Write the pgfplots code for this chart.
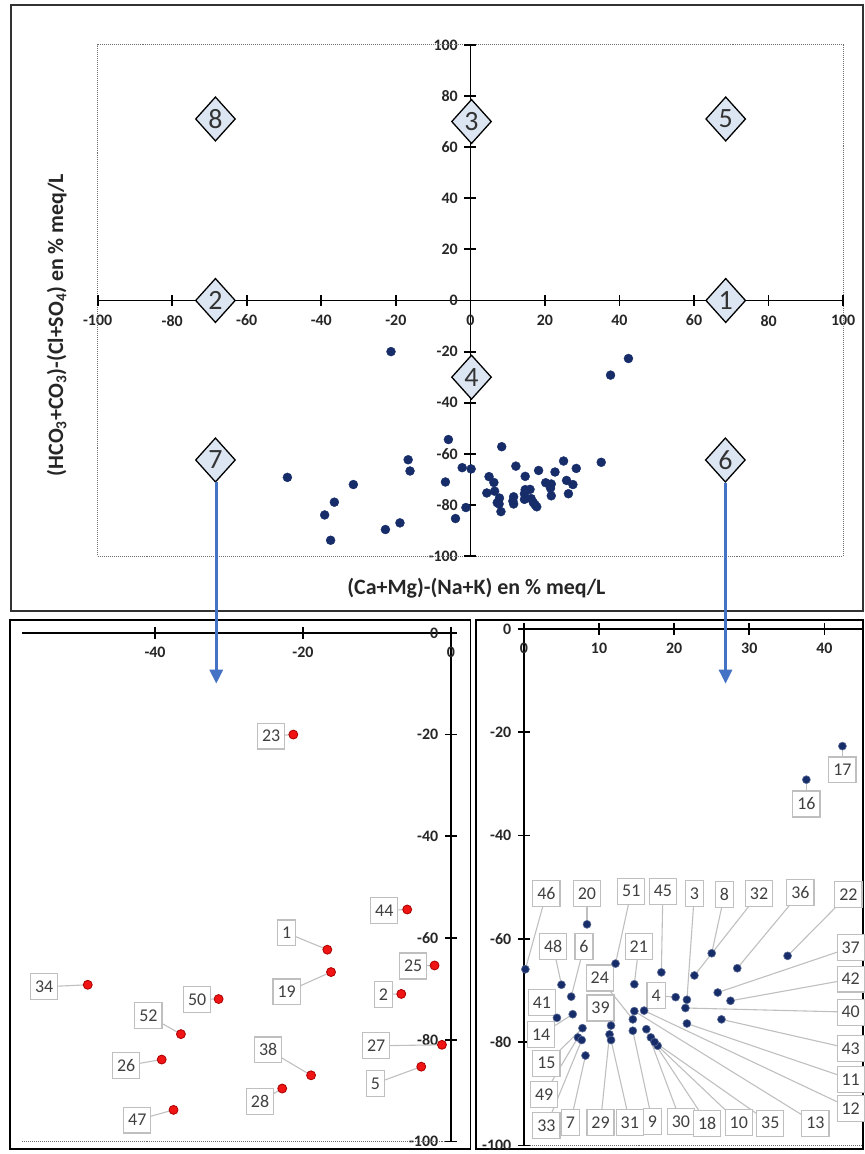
\documentclass[border=0pt]{standalone}
\usepackage{fontspec}
\setmainfont{Carlito}
\usepackage{pgfplots}
\pgfplotsset{compat=1.18}
\usepackage{pgfplotstable}
\usetikzlibrary{arrows.meta}

\definecolor{navy}{RGB}{22,45,105}
\definecolor{rdot}{RGB}{240,20,20}
\definecolor{rdotd}{RGB}{170,0,0}
\definecolor{dfill}{RGB}{220,230,242}
\definecolor{arrowblue}{RGB}{68,114,196}
\definecolor{lgray}{RGB}{191,191,191}
\definecolor{tgray}{RGB}{64,64,64}
\definecolor{framec}{RGB}{50,50,50}
\definecolor{dotc}{RGB}{110,110,110}

% points with (Ca+Mg)-(Na+K) < 0 : x y, label position lx ly, label
\pgfplotstableread{
x y lx ly lab
-21.3 -20.0 -24.3 -20.3 23
-5.9 -54.4 -9.0 -54.6 44
-16.7 -62.3 -22.2 -59.0 1
-2.2 -65.4 -5.1 -65.5 25
-16.2 -66.7 -22.2 -70.6 19
-49.1 -69.2 -55.0 -69.6 34
-6.7 -71.0 -9.1 -71.1 2
-31.4 -72.0 -34.3 -72.1 50
-36.5 -78.9 -40.9 -75.3 52
-1.2 -81.0 -10.1 -81.2 27
-39.1 -83.9 -43.9 -85.1 26
-4.0 -85.3 -10.2 -88.6 5
-18.9 -87.0 -24.7 -82.0 38
-22.8 -89.6 -25.8 -92.2 28
-37.5 -93.8 -42.4 -95.8 47
}\negtab

% points with (Ca+Mg)-(Na+K) > 0
\pgfplotstableread{
x y lx ly lab
0.2 -65.9 3.0 -51.2 46
8.4 -57.2 8.4 -51.2 20
12.2 -64.8 14.3 -50.8 51
18.3 -66.5 18.5 -50.8 45
21.7 -71.8 22.7 -51.2 3
25.0 -62.8 26.7 -51.4 8
22.7 -67.1 31.3 -51.2 32
28.4 -65.7 36.8 -51.0 36
35.1 -63.3 43.2 -51.4 22
5.0 -68.9 3.9 -61.5 48
6.3 -71.2 8.0 -61.5 6
14.7 -68.8 15.3 -61.5 21
14.5 -75.6 10.1 -67.6 24
20.2 -71.3 17.6 -71.0 4
25.8 -70.4 43.5 -61.7 37
27.5 -72.0 43.5 -67.8 42
21.5 -73.4 43.5 -74.2 40
26.3 -75.6 43.5 -81.3 43
21.7 -76.4 43.5 -87.2 11
16.0 -73.9 43.5 -92.8 12
14.7 -74.0 38.8 -95.7 13
4.4 -75.3 2.4 -72.3 41
6.5 -74.6 2.3 -78.5 14
11.6 -76.8 10.2 -73.4 39
7.8 -77.3 3.0 -84.1 15
7.2 -79.1 2.7 -90.1 49
7.7 -79.6 3.0 -96.2 33
8.2 -82.6 6.2 -95.6 7
11.4 -78.5 10.2 -95.6 29
11.6 -79.6 14.1 -95.6 31
14.5 -77.8 17.1 -95.4 9
16.3 -77.5 20.9 -95.4 30
16.9 -79.1 24.4 -95.7 18
17.8 -80.7 28.6 -95.6 10
17.4 -80.0 32.8 -95.7 35
37.6 -29.2 37.6 -33.9 16
42.4 -22.7 42.4 -27.3 17
}\postab

\pgfplotstableread{
x y lab
-68.4 71 8
0.3 70 3
68.5 71 5
-68.4 0 2
68.5 0 1
0.3 -30 4
-68.4 -62.4 7
68.4 -62.4 6
}\diamtab

\pgfplotsset{
  panel/.style={
    axis lines=middle,
    scale only axis,
    axis line style={-, black, line width=1.8pt},
    every inner x axis line/.append style={-},
    every inner y axis line/.append style={-},
    hide obscured x ticks=false,
    hide obscured y ticks=false,
    /pgf/number format/assume math mode=true,
    tick label style={font=\bfseries\fontsize{16}{18}\selectfont, text=black!85},
    xticklabel style={yshift=-9pt},
    yticklabel style={xshift=-7pt},
    clip=false,
  },
  callout/.style={
    draw=none, mark=none, nodes near coords, point meta=explicit symbolic,
    every node near coord/.append style={anchor=center, draw=lgray, line width=1.2pt,
      fill=white, text=tgray, font=\fontsize{18}{19}\selectfont,
      inner xsep=4.5pt, inner ysep=2pt, minimum height=26pt},
  },
  link/.style={lgray, line width=1.1pt, mark=none,
    quiver={u=\thisrow{x}-\thisrow{lx}, v=\thisrow{y}-\thisrow{ly}}},
}

\begin{document}
\begin{tikzpicture}
\path (0pt,0pt) rectangle (867pt,-1154pt);

\begin{scope}[x=1pt,y=-1pt]
  \draw[framec, line width=2pt] (11,5) rectangle (866,613);
  \draw[black, line width=1.8pt] (10,622) rectangle (472,1153);
  \draw[black, line width=1.8pt] (478,622) rectangle (866,1153);
  \node[font=\bfseries\fontsize{22}{24}\selectfont, text=black!85] at (478,590)
    {(Ca+Mg)-(Na+K) en \% meq/L};
  \node[rotate=90, font=\bfseries\fontsize{22}{24}\selectfont, text=black!85] at (57,326)
    {(HCO\textsubscript{3}+CO\textsubscript{3})-(Cl+SO\textsubscript{4}) en \% meq/L};
\end{scope}

% ---------------- top panel
\begin{axis}[panel, at={(98pt,-558pt)}, anchor=south west, width=748pt, height=513pt,
  xmin=-100, xmax=100, ymin=-100, ymax=100,
  xtick={-100,-80,...,100}, ytick={-100,-80,...,100}]
\addplot[dotc, densely dotted, line width=1pt] coordinates {(-100,-100) (100,-100) (100,100) (-100,100) (-100,-100)};
\addplot[black, line width=1.8pt, ycomb, mark=none] coordinates {(-100,2.3) (-80,2.3) (-60,2.3) (-40,2.3) (-20,2.3) (20,2.3) (40,2.3) (60,2.3) (80,2.3) (100,2.3)};
\addplot[black, line width=1.8pt, ycomb, mark=none] coordinates {(-100,-2.3) (-80,-2.3) (-60,-2.3) (-40,-2.3) (-20,-2.3) (20,-2.3) (40,-2.3) (60,-2.3) (80,-2.3) (100,-2.3)};
\addplot[black, line width=1.8pt, xcomb, mark=none] coordinates {(1.6,-100) (1.6,-80) (1.6,-60) (1.6,-40) (1.6,-20) (1.6,20) (1.6,40) (1.6,60) (1.6,80) (1.6,100)};
\addplot[black, line width=1.8pt, xcomb, mark=none] coordinates {(-1.6,-100) (-1.6,-80) (-1.6,-60) (-1.6,-40) (-1.6,-20) (-1.6,20) (-1.6,40) (-1.6,60) (-1.6,80) (-1.6,100)};
\addplot[only marks, mark=*, mark size=4.5pt, navy] table[x=x,y=y]{\negtab};
\addplot[only marks, mark=*, mark size=4.5pt, navy] table[x=x,y=y]{\postab};
\addplot[only marks, mark=diamond*, mark size=22pt,
  mark options={xscale=1.2, fill=dfill, draw=black, line width=1.3pt},
  nodes near coords, point meta=explicit symbolic,
  every node near coord/.append style={anchor=center, font=\fontsize{28}{29}\selectfont, text=black!80}]
  table[x=x,y=y,meta=lab]{\diamtab};
\end{axis}

% ---------------- bottom-left panel
\begin{axis}[panel, at={(22pt,-1145.3pt)}, anchor=south west, width=436.3pt, height=510.3pt,
  xmin=-58, xmax=0.8, ymin=-100, ymax=0,
  xtick={-40,-20,0}, ytick={-100,-80,...,0}]
\addplot[dotc, densely dotted, line width=1pt] coordinates {(-58,-100) (0,-100)};
\addplot[black, line width=1.8pt, ycomb, mark=none] coordinates {(-40,1.15) (-20,1.15) (0,1.15)};
\addplot[black, line width=1.8pt, ycomb, mark=none] coordinates {(-40,-1.15) (-20,-1.15)};
\addplot[black, line width=1.8pt, xcomb, mark=none] coordinates {(0.8,-100) (0.8,-80) (0.8,-60) (0.8,-40) (0.8,-20) (0.8,0)};
\addplot[black, line width=1.8pt, xcomb, mark=none] coordinates {(-0.8,-100) (-0.8,-80) (-0.8,-60) (-0.8,-40) (-0.8,-20)};
\addplot[link] table[x=lx,y=ly]{\negtab};
\addplot[callout] table[x=lx,y=ly,meta=lab]{\negtab};
\addplot[only marks, mark=*, mark size=4.5pt, mark options={fill=rdot, draw=rdotd, line width=0.8pt}]
  table[x=x,y=y]{\negtab};
\end{axis}

% ---------------- bottom-right panel
\begin{axis}[panel, at={(521.9pt,-1149.3pt)}, anchor=south west, width=343pt, height=518.3pt,
  xmin=-0.5, xmax=45, ymin=-100, ymax=0,
  xtick={0,10,...,40}, ytick={-100,-80,...,0}]
\addplot[dotc, densely dotted, line width=1pt] coordinates {(0,-100) (45,-100)};
\addplot[black, line width=1.8pt, ycomb, mark=none] coordinates {(0,1.15) (10,1.15) (20,1.15) (30,1.15) (40,1.15)};
\addplot[black, line width=1.8pt, ycomb, mark=none] coordinates {(10,-1.15) (20,-1.15) (30,-1.15) (40,-1.15)};
\addplot[black, line width=1.8pt, xcomb, mark=none] coordinates {(0.8,-100) (0.8,-80) (0.8,-60) (0.8,-40) (0.8,-20)};
\addplot[black, line width=1.8pt, xcomb, mark=none] coordinates {(-0.8,-100) (-0.8,-80) (-0.8,-60) (-0.8,-40) (-0.8,-20) (-0.8,0)};
\addplot[link] table[x=lx,y=ly]{\postab};
\addplot[callout] table[x=lx,y=ly,meta=lab]{\postab};
\addplot[only marks, mark=*, mark size=4pt, mark options={fill=navy, draw=navy!70!white, line width=0.6pt}]
  table[x=x,y=y]{\postab};
\end{axis}

\begin{scope}[x=1pt,y=-1pt]
  \draw[arrowblue, line width=3pt, -{Triangle[length=14pt,width=13pt]}] (217,484) -- (217,686);
  \draw[arrowblue, line width=3pt, -{Triangle[length=14pt,width=13pt]}] (728,485) -- (728,686);
\end{scope}
\end{tikzpicture}
\end{document}
